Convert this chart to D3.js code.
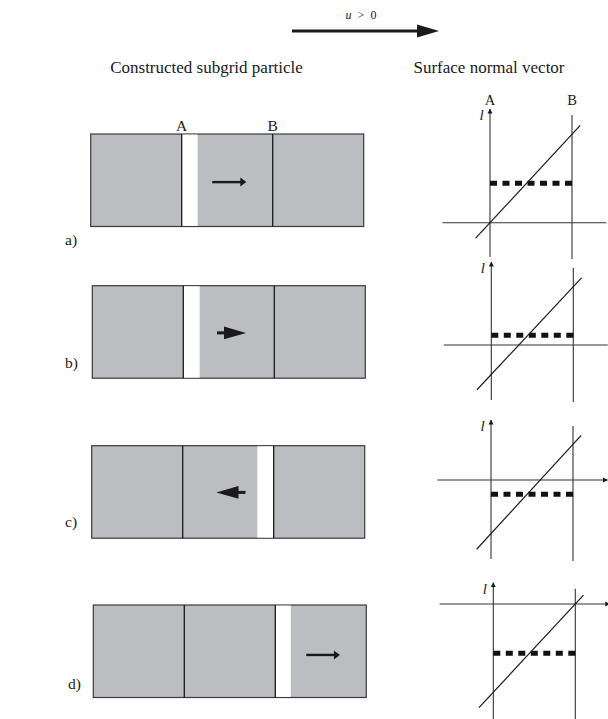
<!DOCTYPE html>
<html><head><meta charset="utf-8">
<script src="https://cdn.jsdelivr.net/npm/d3@7/dist/d3.min.js"></script>
<style>html,body{margin:0;padding:0;background:#fff;}svg{display:block;}</style>
</head><body>
<script>
// ---------- data ----------
const panelLabels = ["a)", "b)", "c)", "d)"];
const cellNames = ["A", "B"];
const titles = ["Constructed subgrid particle", "Surface normal vector"];
// white gap (empty part of the cell) in cell units (0..3 across the three cells)
const gapStart = [1.0, 1.0, 1.82, 2.0];
const gapEnd = [1.175, 1.18, 2.0, 2.17];
// velocity arrows inside the cells (cell units)
const arrowFrom = [1.335, 1.37, 1.69, 2.34];
const arrowTo = [1.71, 1.69, 1.37, 2.71];
const arrowLevel = [0.52, 0.51, 0.505, 0.54];
const arrowKind = ["thin", "bold", "bold", "thin"];
// surface graphs (A = 0, B = 1)
const lineZero = [0.0, 0.335, 0.6, 1.0];
const lineSlope = [1.08, 1.07, 1.09, 1.076];
const lineExtent = [-0.175, 1.1];
const fillLevel = [0.48, 0.12, -0.175, -0.6];
const hAxisArrow = [false, false, true, true];

// ---------- layout ----------
const W = 608, H = 719;
const boxLeft = [90.7, 92.3, 91.7, 93.3];
const boxTop = [134, 285.7, 445.7, 605];
const cellW = 91, boxH = 92.5;
const graphA = [490, 491.3, 491, 493.3];
const unit = 82;
const axisY = [222.7, 345, 480, 604];
const vTop = [109, 262, 420, 582.7];
const vBottom = [257, 400, 559, 722];
const rowLabelX = [65, 65, 65, 68];
const rowLabelY = [245, 368, 527, 689];

const svg = d3.select("body").append("svg").attr("width", W).attr("height", H);
const serif = "'Liberation Serif','DejaVu Serif',serif";
const ink = "#1a1a1a";

const defs = svg.append("defs");
defs.append("marker").attr("id", "axTip").attr("viewBox", "0 0 10 10")
  .attr("refX", 9).attr("refY", 5).attr("markerWidth", 5).attr("markerHeight", 6)
  .attr("markerUnits", "userSpaceOnUse").attr("orient", "auto")
  .append("path").attr("d", "M0,0 L10,5 L0,10 Z").attr("fill", ink);

// top flow arrow
const flowG = svg.append("g");
flowG.append("line").attr("x1", 292).attr("x2", 419).attr("y1", 31).attr("y2", 31)
  .attr("stroke", ink).attr("stroke-width", 3);
flowG.append("path").attr("d", d3.line()([[417, 24.5], [439, 31], [417, 37.5]]) + "Z").attr("fill", ink);
const flowText = flowG.append("text").attr("x", 361).attr("y", 19).attr("text-anchor", "middle")
  .attr("font-family", serif).attr("font-size", 12).attr("fill", ink);
flowText.append("tspan").attr("font-style", "italic").text("u");
flowText.append("tspan").text("\u2002>\u20020");

// titles
svg.append("text").attr("x", 206.5).attr("y", 73).attr("text-anchor", "middle")
  .attr("font-family", serif).attr("font-size", 17).attr("fill", ink).text(titles[0]);
svg.append("text").attr("x", 489).attr("y", 73).attr("text-anchor", "middle")
  .attr("font-family", serif).attr("font-size", 17).attr("fill", ink).text(titles[1]);

panelLabels.forEach((lab, i) => {
  const g = svg.append("g");
  const x = d3.scaleLinear().domain([0, 3]).range([boxLeft[i], boxLeft[i] + 3 * cellW]);
  const y = d3.scaleLinear().domain([0, 1]).range([boxTop[i], boxTop[i] + boxH]);

  // cells
  g.append("rect").attr("x", x(0)).attr("y", y(0)).attr("width", x(3) - x(0)).attr("height", y(1) - y(0))
    .attr("fill", "#bcbdc0").attr("stroke", "#3a3a3a").attr("stroke-width", 1.2);
  g.append("rect").attr("x", x(gapStart[i])).attr("y", y(0) + 0.6).attr("width", x(gapEnd[i]) - x(gapStart[i]))
    .attr("height", y(1) - y(0) - 1.2).attr("fill", "#fff");
  [1, 2].forEach(k => g.append("line").attr("x1", x(k)).attr("x2", x(k)).attr("y1", y(0)).attr("y2", y(1))
    .attr("stroke", ink).attr("stroke-width", 1.3));
  if (i === 0) {
    cellNames.forEach((n, k) => g.append("text").attr("x", x(k + 1)).attr("y", y(0) - 3.5)
      .attr("text-anchor", "middle").attr("font-family", serif).attr("font-size", 15.5).attr("fill", ink).text(n));
  }

  // velocity arrow
  const ax0 = x(arrowFrom[i]), ax1 = x(arrowTo[i]), ay = y(arrowLevel[i]);
  const dir = Math.sign(ax1 - ax0);
  if (arrowKind[i] === "thin") {
    g.append("line").attr("x1", ax0).attr("x2", ax1 - dir * 3).attr("y1", ay).attr("y2", ay)
      .attr("stroke", ink).attr("stroke-width", 2.4);
    g.append("path").attr("d", d3.line()([[ax1 - dir * 6, ay - 4.5], [ax1, ay], [ax1 - dir * 6, ay + 4.5]]) + "Z")
      .attr("fill", ink);
  } else {
    g.append("line").attr("x1", ax0).attr("x2", ax1 - dir * 18).attr("y1", ay).attr("y2", ay)
      .attr("stroke", ink).attr("stroke-width", 3);
    g.append("path").attr("d", d3.line()([[ax0 + dir * 7, ay - 6.3], [ax1, ay], [ax0 + dir * 7, ay + 6.3]]) + "Z")
      .attr("fill", ink);
  }

  // row label
  svg.append("text").attr("x", rowLabelX[i]).attr("y", rowLabelY[i]).attr("font-family", serif)
    .attr("font-size", 15.5).attr("fill", ink).text(lab);

  // surface graph
  const gx = d3.scaleLinear().domain([0, 1]).range([graphA[i], graphA[i] + unit]);
  const gy = d3.scaleLinear().domain([0, 1]).range([axisY[i], axisY[i] - unit]);
  const gg = svg.append("g");
  const hx0 = i === 0 || i === 1 ? -0.58 : -0.655;
  gg.append("line").attr("x1", gx(hx0)).attr("x2", gx(1.42)).attr("y1", gy(0)).attr("y2", gy(0))
    .attr("stroke", "#333").attr("stroke-width", 1.1)
    .attr("marker-end", hAxisArrow[i] ? "url(#axTip)" : null);
  gg.append("line").attr("x1", gx(0)).attr("x2", gx(0)).attr("y1", vBottom[i]).attr("y2", vTop[i])
    .attr("stroke", "#333").attr("stroke-width", 1.1).attr("marker-end", "url(#axTip)");
  gg.append("line").attr("x1", gx(1)).attr("x2", gx(1)).attr("y1", vTop[i] + 6).attr("y2", vBottom[i] + 2)
    .attr("stroke", "#333").attr("stroke-width", 1.1);
  gg.append("text").attr("x", gx(0) - 8.5).attr("y", vTop[i] + 11).attr("text-anchor", "middle")
    .attr("font-family", serif).attr("font-style", "italic").attr("font-size", 15).attr("fill", ink).text("l");
  if (i === 0) {
    cellNames.forEach((n, k) => gg.append("text").attr("x", gx(k)).attr("y", 105)
      .attr("text-anchor", "middle").attr("font-family", serif).attr("font-size", 14.5).attr("fill", ink).text(n));
  }
  gg.append("line").attr("x1", gx(0)).attr("x2", gx(1)).attr("y1", gy(fillLevel[i])).attr("y2", gy(fillLevel[i]))
    .attr("stroke", "#111").attr("stroke-width", 5).attr("stroke-dasharray", "7,5.5");
  const f = t => lineSlope[i] * (t - lineZero[i]);
  gg.append("path").attr("d", d3.line().x(d => gx(d)).y(d => gy(f(d)))(lineExtent))
    .attr("stroke", ink).attr("stroke-width", 1.2).attr("fill", "none");
});
</script>
</body></html>
